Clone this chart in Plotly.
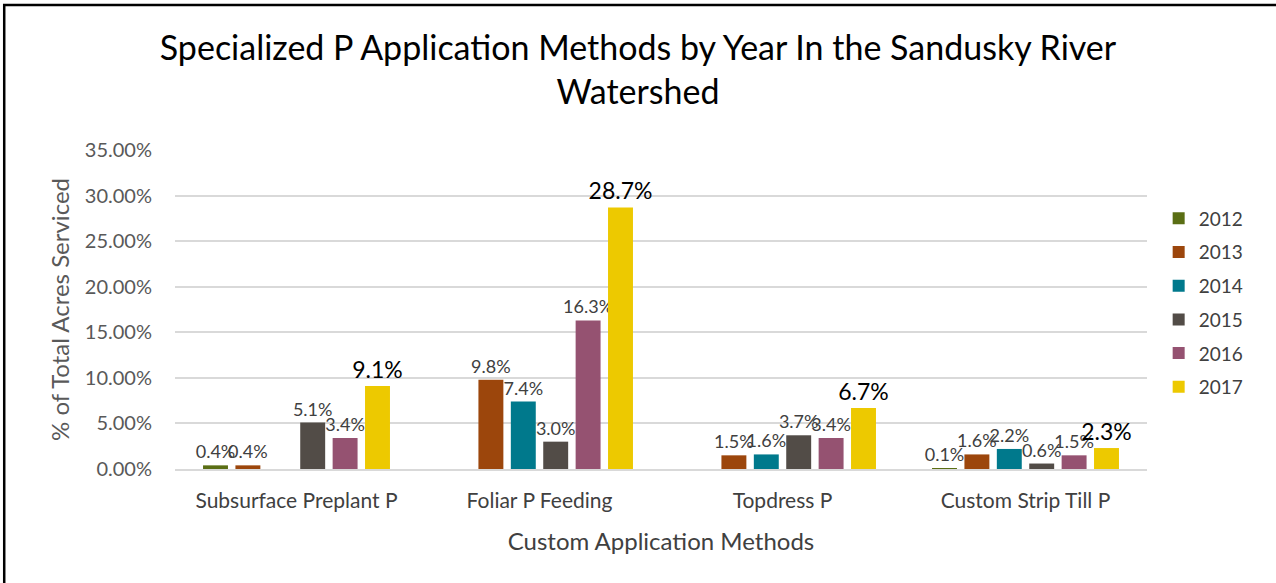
import plotly.graph_objects as go

categories = ["Subsurface Preplant P", "Foliar P Feeding", "Topdress P", "Custom Strip Till P"]
years = ["2012", "2013", "2014", "2015", "2016", "2017"]
v2012 = [0.4, None, None, 0.1]
v2013 = [0.4, 9.8, 1.5, 1.6]
v2014 = [None, 7.4, 1.6, 2.2]
v2015 = [5.1, 3.0, 3.7, 0.6]
v2016 = [3.4, 16.3, 3.4, 1.5]
v2017 = [9.1, 28.7, 6.7, 2.3]
series = [v2012, v2013, v2014, v2015, v2016, v2017]
colors = ["#5a6e14", "#9c460c", "#00798c", "#524c47", "#955271", "#edc900"]

FONT = "Lato, 'Open Sans', sans-serif"

fig = go.Figure()
for i, (yr, vals, col) in enumerate(zip(years, series, colors)):
    last = (i == len(years) - 1)
    fig.add_trace(go.Bar(
        name=yr, x=categories, y=vals, marker=dict(color=col, line=dict(width=0)),
        texttemplate="%{y:.1f}%", textposition="outside", cliponaxis=False,
        constraintext="none",
        textfont=dict(family=FONT, size=23 if last else 18, color="#000000" if last else "#404040"),
        legendgroup=yr,
    ))

fig.update_layout(
    width=1276, height=583,
    margin=dict(l=175, r=129, t=150, b=114),
    paper_bgcolor="white", plot_bgcolor="white",
    barmode="group", bargap=0.2, bargroupgap=0.23,
    title=dict(text="Specialized P Application Methods by Year In the Sandusky River<br>Watershed",
               x=0.5, xref="container", xanchor="center", yref="container", y=0.897, yanchor="middle",
               font=dict(family=FONT, size=34, color="#000000")),
    font=dict(family=FONT, color="#595959"),
    legend=dict(x=1.012, xanchor="left", y=0.845, yanchor="top", tracegroupgap=6,
                font=dict(family=FONT, size=19, color="#404040"), itemwidth=30),
    yaxis=dict(range=[0, 35], dtick=5, ticksuffix="%", tickformat=".2f",
               showgrid=True, gridcolor="#d9d9d9", gridwidth=1.5, zeroline=False,
               showline=False, ticklabelstandoff=22,
               tickfont=dict(family=FONT, size=20, color="#595959"),
               title=dict(text="% of Total Acres Serviced", font=dict(family=FONT, size=24, color="#595959"),
                          standoff=8)),
    xaxis=dict(showline=True, linecolor="#d9d9d9", linewidth=1.5, ticklabelstandoff=12,
               tickfont=dict(family=FONT, size=21, color="#404040"),
               title=dict(text="Custom Application Methods", font=dict(family=FONT, size=24, color="#404040"),
                          standoff=22)),
    shapes=[dict(type="path", xref="paper", yref="paper",
                 path="M -0.1757,-0.6 L -0.1757,1.4545 L 1.3,1.4545",
                 line=dict(color="black", width=2.5))],
)

fig.write_html("out.html", config={"displayModeBar": False},
               post_script="document.body.style.margin='0';document.body.style.padding='0';")
